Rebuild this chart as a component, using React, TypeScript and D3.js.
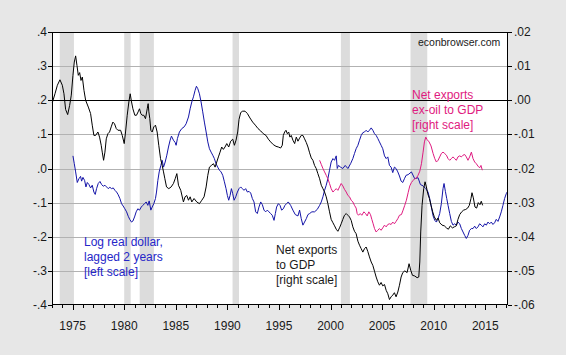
import React from "react";
import * as d3 from "d3";

const leftTicks = [0.4, 0.3, 0.2, 0.1, 0.0, -0.1, -0.2, -0.3, -0.4];
const leftTickLabels = [".4", ".3", ".2", ".1", ".0", "-.1", "-.2", "-.3", "-.4"];
const rightTicks = [0.02, 0.01, 0.0, -0.01, -0.02, -0.03, -0.04, -0.05, -0.06];
const rightTickLabels = [".02", ".01", ".00", "-.01", "-.02", "-.03", "-.04", "-.05", "-.06"];
const yearLabels = [1975, 1980, 1985, 1990, 1995, 2000, 2005, 2010, 2015];
const recessions: [number, number][] = [
  [1973.75, 1975.125], [1980.0, 1980.625], [1981.5, 1982.875],
  [1990.5, 1991.125], [2001.0, 2001.875], [2007.75, 2009.375],
];

// Log real dollar, lagged 2 years (left scale)
const dollarLagged: [number, number][] = [
  [1975.03,0.037],[1975.16,0.014],[1975.29,-0.010],[1975.45,-0.041],[1975.61,-0.030],[1975.77,-0.023],[1975.87,-0.037],[1976.0,-0.026],[1976.16,-0.035],[1976.29,-0.054],[1976.42,-0.041],[1976.58,-0.047],[1976.74,-0.057],[1976.9,-0.049],[1977.06,-0.069],[1977.19,-0.076],[1977.32,-0.059],[1977.48,-0.044],[1977.65,-0.038],[1977.81,-0.047],[1977.97,-0.052],[1978.13,-0.049],[1978.29,-0.054],[1978.45,-0.059],[1978.61,-0.055],[1978.77,-0.059],[1978.94,-0.057],[1979.1,-0.064],[1979.26,-0.069],[1979.42,-0.077],[1979.58,-0.088],[1979.74,-0.103],[1979.9,-0.110],[1980.06,-0.118],[1980.23,-0.127],[1980.39,-0.140],[1980.55,-0.150],[1980.71,-0.157],[1980.84,-0.154],[1981.0,-0.142],[1981.16,-0.127],[1981.32,-0.118],[1981.48,-0.122],[1981.65,-0.113],[1981.81,-0.108],[1981.97,-0.103],[1982.13,-0.098],[1982.29,-0.108],[1982.42,-0.095],[1982.58,-0.122],[1982.71,-0.113],[1982.87,-0.103],[1983.03,-0.088],[1983.13,-0.069],[1983.26,-0.035],[1983.39,-0.010],[1983.55,0.009],[1983.68,0.024],[1983.81,0.004],[1983.97,0.019],[1984.13,0.039],[1984.29,0.063],[1984.45,0.083],[1984.58,0.095],[1984.77,0.083],[1984.94,0.076],[1985.03,0.068],[1985.16,0.088],[1985.35,0.107],[1985.58,0.117],[1985.81,0.122],[1986.0,0.131],[1986.23,0.151],[1986.39,0.175],[1986.55,0.195],[1986.71,0.210],[1986.87,0.229],[1987.0,0.241],[1987.13,0.234],[1987.29,0.219],[1987.45,0.195],[1987.61,0.166],[1987.77,0.136],[1987.94,0.107],[1988.1,0.078],[1988.26,0.058],[1988.42,0.048],[1988.58,0.039],[1988.74,0.029],[1988.9,0.014],[1989.06,0.004],[1989.23,-0.005],[1989.39,-0.010],[1989.55,-0.020],[1989.71,-0.039],[1989.87,-0.059],[1990.0,-0.079],[1990.13,-0.093],[1990.26,-0.079],[1990.39,-0.059],[1990.52,-0.074],[1990.65,-0.093],[1990.81,-0.083],[1990.97,-0.069],[1991.13,-0.059],[1991.29,-0.054],[1991.45,-0.059],[1991.61,-0.064],[1991.77,-0.059],[1991.94,-0.069],[1992.1,-0.067],[1992.26,-0.072],[1992.42,-0.088],[1992.58,-0.098],[1992.74,-0.127],[1992.9,-0.132],[1993.06,-0.113],[1993.23,-0.098],[1993.39,-0.106],[1993.55,-0.122],[1993.71,-0.127],[1993.87,-0.122],[1994.03,-0.127],[1994.19,-0.132],[1994.35,-0.137],[1994.52,-0.152],[1994.65,-0.132],[1994.77,-0.113],[1994.94,-0.103],[1995.1,-0.108],[1995.26,-0.122],[1995.42,-0.118],[1995.58,-0.108],[1995.74,-0.103],[1995.9,-0.098],[1996.13,-0.108],[1996.35,-0.122],[1996.58,-0.135],[1996.84,-0.139],[1997.0,-0.122],[1997.16,-0.147],[1997.32,-0.166],[1997.48,-0.157],[1997.65,-0.147],[1997.81,-0.135],[1997.97,-0.132],[1998.19,-0.127],[1998.45,-0.127],[1998.71,-0.120],[1998.94,-0.108],[1999.1,-0.098],[1999.26,-0.083],[1999.42,-0.064],[1999.58,-0.049],[1999.74,-0.030],[1999.9,-0.005],[2000.06,0.019],[2000.23,0.029],[2000.39,0.024],[2000.55,0.037],[2000.65,0.000],[2000.77,0.009],[2000.97,0.004],[2001.19,0.000],[2001.42,0.009],[2001.68,0.000],[2001.94,0.014],[2002.16,0.029],[2002.32,0.044],[2002.48,0.058],[2002.65,0.068],[2002.81,0.083],[2002.97,0.097],[2003.13,0.105],[2003.29,0.107],[2003.45,0.112],[2003.61,0.107],[2003.77,0.112],[2003.94,0.119],[2004.1,0.112],[2004.26,0.102],[2004.42,0.097],[2004.58,0.088],[2004.74,0.078],[2004.9,0.068],[2005.06,0.058],[2005.23,0.037],[2005.39,0.029],[2005.55,0.034],[2005.71,0.009],[2005.87,0.004],[2006.03,-0.012],[2006.19,0.004],[2006.35,0.000],[2006.52,-0.010],[2006.68,-0.022],[2006.84,-0.037],[2007.0,-0.041],[2007.16,-0.030],[2007.32,-0.020],[2007.52,-0.018],[2007.84,-0.010],[2008.16,-0.030],[2008.48,-0.027],[2008.71,-0.047],[2008.97,-0.051],[2009.23,-0.059],[2009.45,-0.069],[2009.61,-0.088],[2009.77,-0.113],[2009.94,-0.139],[2010.1,-0.152],[2010.26,-0.157],[2010.42,-0.147],[2010.58,-0.132],[2010.74,-0.103],[2010.9,-0.059],[2011.0,-0.044],[2011.13,-0.067],[2011.26,-0.088],[2011.39,-0.108],[2011.55,-0.132],[2011.71,-0.155],[2011.87,-0.166],[2012.03,-0.162],[2012.19,-0.166],[2012.35,-0.157],[2012.52,-0.162],[2012.68,-0.176],[2012.84,-0.186],[2013.0,-0.196],[2013.16,-0.205],[2013.32,-0.196],[2013.48,-0.181],[2013.65,-0.176],[2013.81,-0.176],[2013.97,-0.169],[2014.13,-0.176],[2014.29,-0.171],[2014.45,-0.162],[2014.61,-0.166],[2014.77,-0.171],[2014.94,-0.162],[2015.1,-0.166],[2015.26,-0.157],[2015.42,-0.162],[2015.58,-0.157],[2015.74,-0.164],[2015.9,-0.159],[2016.06,-0.149],[2016.23,-0.155],[2016.39,-0.142],[2016.55,-0.127],[2016.71,-0.108],[2016.87,-0.088],[2017.03,-0.074],[2017.16,-0.067],
];

// Net exports to GDP (right scale)
const netExports: [number, number][] = [
  [1973.03,-0.0007],[1973.29,0.0019],[1973.52,0.0044],[1973.77,0.0060],[1974.0,0.0044],[1974.16,0.0019],[1974.32,-0.0027],[1974.52,-0.0042],[1974.71,-0.0015],[1974.87,0.0015],[1975.03,0.0073],[1975.16,0.0112],[1975.29,0.0130],[1975.42,0.0102],[1975.55,0.0073],[1975.68,0.0081],[1975.81,0.0058],[1975.94,0.0068],[1976.1,0.0029],[1976.26,0.0000],[1976.52,-0.0020],[1976.74,-0.0039],[1976.9,-0.0073],[1977.06,-0.0103],[1977.23,-0.0103],[1977.45,-0.0093],[1977.61,-0.0108],[1977.77,-0.0132],[1977.87,-0.0152],[1978.0,-0.0176],[1978.13,-0.0152],[1978.26,-0.0113],[1978.42,-0.0098],[1978.58,-0.0093],[1978.74,-0.0078],[1978.9,-0.0064],[1979.06,-0.0069],[1979.23,-0.0083],[1979.39,-0.0088],[1979.65,-0.0088],[1979.81,-0.0103],[1980.0,-0.0127],[1980.13,-0.0093],[1980.29,-0.0044],[1980.45,-0.0005],[1980.58,0.0019],[1980.71,-0.0005],[1980.84,-0.0025],[1981.03,-0.0044],[1981.19,-0.0044],[1981.35,-0.0034],[1981.48,-0.0025],[1981.61,-0.0039],[1981.74,-0.0044],[1981.9,-0.0044],[1982.06,-0.0054],[1982.23,-0.0025],[1982.32,-0.0010],[1982.39,-0.0034],[1982.48,-0.0054],[1982.58,-0.0088],[1982.71,-0.0093],[1982.87,-0.0078],[1983.03,-0.0073],[1983.19,-0.0093],[1983.35,-0.0132],[1983.52,-0.0171],[1983.68,-0.0191],[1983.81,-0.0210],[1983.94,-0.0230],[1984.1,-0.0254],[1984.32,-0.0259],[1984.55,-0.0254],[1984.77,-0.0244],[1984.94,-0.0230],[1985.1,-0.0215],[1985.26,-0.0249],[1985.48,-0.0264],[1985.74,-0.0298],[1985.9,-0.0283],[1986.06,-0.0279],[1986.23,-0.0293],[1986.39,-0.0283],[1986.55,-0.0298],[1986.77,-0.0288],[1987.03,-0.0298],[1987.29,-0.0303],[1987.52,-0.0293],[1987.74,-0.0283],[1987.94,-0.0254],[1988.1,-0.0220],[1988.26,-0.0196],[1988.45,-0.0191],[1988.65,-0.0186],[1988.81,-0.0196],[1988.97,-0.0181],[1989.13,-0.0166],[1989.29,-0.0152],[1989.45,-0.0137],[1989.61,-0.0144],[1989.77,-0.0137],[1989.94,-0.0127],[1990.13,-0.0137],[1990.32,-0.0120],[1990.52,-0.0114],[1990.68,-0.0132],[1990.84,-0.0117],[1991.0,-0.0093],[1991.13,-0.0056],[1991.29,-0.0036],[1991.48,-0.0032],[1991.71,-0.0032],[1991.94,-0.0039],[1992.19,-0.0052],[1992.45,-0.0064],[1992.71,-0.0073],[1992.97,-0.0083],[1993.23,-0.0090],[1993.48,-0.0098],[1993.74,-0.0103],[1993.97,-0.0114],[1994.19,-0.0122],[1994.45,-0.0130],[1994.71,-0.0135],[1994.94,-0.0137],[1995.16,-0.0140],[1995.32,-0.0132],[1995.42,-0.0103],[1995.55,-0.0093],[1995.68,-0.0088],[1995.81,-0.0098],[1995.94,-0.0093],[1996.06,-0.0108],[1996.19,-0.0103],[1996.35,-0.0117],[1996.52,-0.0127],[1996.68,-0.0108],[1996.84,-0.0120],[1997.0,-0.0111],[1997.16,-0.0103],[1997.32,-0.0103],[1997.48,-0.0113],[1997.65,-0.0124],[1997.81,-0.0137],[1997.97,-0.0154],[1998.13,-0.0169],[1998.29,-0.0176],[1998.45,-0.0191],[1998.61,-0.0200],[1998.77,-0.0215],[1998.94,-0.0230],[1999.1,-0.0249],[1999.26,-0.0259],[1999.42,-0.0269],[1999.58,-0.0283],[1999.74,-0.0303],[1999.9,-0.0327],[2000.06,-0.0349],[2000.23,-0.0359],[2000.39,-0.0368],[2000.55,-0.0378],[2000.71,-0.0384],[2000.87,-0.0374],[2001.03,-0.0362],[2001.19,-0.0349],[2001.35,-0.0337],[2001.52,-0.0332],[2001.68,-0.0337],[2001.84,-0.0342],[2002.0,-0.0352],[2002.16,-0.0371],[2002.32,-0.0384],[2002.48,-0.0391],[2002.65,-0.0413],[2002.81,-0.0425],[2002.97,-0.0435],[2003.13,-0.0445],[2003.29,-0.0435],[2003.45,-0.0430],[2003.61,-0.0443],[2003.77,-0.0459],[2003.94,-0.0474],[2004.1,-0.0484],[2004.26,-0.0501],[2004.42,-0.0518],[2004.58,-0.0532],[2004.74,-0.0542],[2004.9,-0.0534],[2005.06,-0.0544],[2005.23,-0.0540],[2005.39,-0.0557],[2005.55,-0.0567],[2005.71,-0.0584],[2005.87,-0.0576],[2006.03,-0.0571],[2006.19,-0.0564],[2006.35,-0.0576],[2006.52,-0.0562],[2006.68,-0.0542],[2006.84,-0.0518],[2007.0,-0.0505],[2007.2,-0.0500],[2007.42,-0.0505],[2007.61,-0.0479],[2007.77,-0.0498],[2007.94,-0.0513],[2008.16,-0.0515],[2008.39,-0.0520],[2008.55,-0.0518],[2008.65,-0.0474],[2008.74,-0.0386],[2008.87,-0.0308],[2009.03,-0.0259],[2009.16,-0.0239],[2009.29,-0.0254],[2009.42,-0.0274],[2009.58,-0.0288],[2009.74,-0.0308],[2009.9,-0.0327],[2010.06,-0.0342],[2010.26,-0.0352],[2010.42,-0.0345],[2010.58,-0.0359],[2010.81,-0.0366],[2011.03,-0.0368],[2011.23,-0.0374],[2011.42,-0.0378],[2011.61,-0.0368],[2011.81,-0.0374],[2012.0,-0.0371],[2012.19,-0.0368],[2012.35,-0.0349],[2012.52,-0.0335],[2012.71,-0.0327],[2012.9,-0.0322],[2013.1,-0.0320],[2013.29,-0.0316],[2013.45,-0.0308],[2013.61,-0.0288],[2013.71,-0.0271],[2013.84,-0.0286],[2014.0,-0.0313],[2014.16,-0.0316],[2014.32,-0.0300],[2014.48,-0.0306],[2014.61,-0.0296],[2014.74,-0.0308],
];

// Net exports ex-oil to GDP (right scale)
const netExportsExOil: [number, number][] = [
  [1998.94,-0.0176],[1999.1,-0.0188],[1999.26,-0.0200],[1999.42,-0.0210],[1999.58,-0.0220],[1999.74,-0.0230],[1999.9,-0.0244],[2000.06,-0.0259],[2000.23,-0.0269],[2000.39,-0.0264],[2000.55,-0.0259],[2000.71,-0.0264],[2000.87,-0.0254],[2001.03,-0.0244],[2001.19,-0.0251],[2001.35,-0.0261],[2001.52,-0.0269],[2001.68,-0.0279],[2001.84,-0.0283],[2002.0,-0.0293],[2002.16,-0.0298],[2002.32,-0.0308],[2002.48,-0.0316],[2002.58,-0.0332],[2002.71,-0.0337],[2002.87,-0.0332],[2003.03,-0.0337],[2003.23,-0.0327],[2003.39,-0.0332],[2003.55,-0.0339],[2003.71,-0.0327],[2003.87,-0.0335],[2004.0,-0.0349],[2004.13,-0.0362],[2004.26,-0.0376],[2004.42,-0.0386],[2004.58,-0.0381],[2004.74,-0.0376],[2004.9,-0.0381],[2005.06,-0.0374],[2005.23,-0.0366],[2005.39,-0.0371],[2005.55,-0.0364],[2005.71,-0.0362],[2005.87,-0.0364],[2006.03,-0.0357],[2006.19,-0.0362],[2006.35,-0.0355],[2006.52,-0.0347],[2006.68,-0.0337],[2006.87,-0.0335],[2007.03,-0.0322],[2007.19,-0.0308],[2007.35,-0.0293],[2007.52,-0.0271],[2007.68,-0.0251],[2007.84,-0.0241],[2008.0,-0.0235],[2008.16,-0.0230],[2008.32,-0.0228],[2008.48,-0.0220],[2008.65,-0.0208],[2008.81,-0.0186],[2008.97,-0.0152],[2009.1,-0.0122],[2009.23,-0.0108],[2009.35,-0.0115],[2009.55,-0.0122],[2009.74,-0.0134],[2009.94,-0.0156],[2010.1,-0.0171],[2010.26,-0.0181],[2010.42,-0.0176],[2010.58,-0.0166],[2010.74,-0.0156],[2010.9,-0.0152],[2011.06,-0.0156],[2011.23,-0.0161],[2011.39,-0.0171],[2011.55,-0.0176],[2011.71,-0.0171],[2011.87,-0.0166],[2012.03,-0.0171],[2012.19,-0.0176],[2012.35,-0.0166],[2012.52,-0.0163],[2012.68,-0.0166],[2012.84,-0.0161],[2013.0,-0.0159],[2013.16,-0.0166],[2013.32,-0.0176],[2013.48,-0.0166],[2013.65,-0.0152],[2013.81,-0.0171],[2013.97,-0.0181],[2014.13,-0.0186],[2014.29,-0.0193],[2014.45,-0.0198],[2014.58,-0.0191],[2014.71,-0.0205],
];

const W = 566, H = 355;
const L = 52, R = 508, T = 32, B = 305;
const FONT = "'Liberation Sans', Arial, sans-serif";
const BLUE_LINE = "#1414a8";
const BLUE_TEXT = "#2626c8";
const PINK = "#df1a80";

export default function App() {
  const x = d3.scaleLinear().domain([1973.0, 2017.2]).range([L, R]);
  const yL = d3.scaleLinear().domain([-0.4, 0.4]).range([B, T]);
  const yR = d3.scaleLinear().domain([-0.06, 0.02]).range([B, T]);
  const lineL = d3.line<[number, number]>().x((d) => x(d[0])).y((d) => yL(d[1]));
  const lineR = d3.line<[number, number]>().x((d) => x(d[0])).y((d) => yR(d[1]));
  const crisp = (v: number) => Math.round(v) + 0.5;
  const years = d3.range(1973, 2018);

  return (
    <svg width={W} height={H} style={{ position: "absolute", left: 0, top: 0 }} fontFamily={FONT}>
      <rect x={0} y={0} width={W} height={H} fill="#e7e7e7" />
      <rect x={L} y={T} width={R - L} height={B - T} fill="#ffffff" />
      {recessions.map(([a, b], i) => (
        <rect key={i} x={x(a)} y={T} width={x(b) - x(a)} height={B - T} fill="#dcdcdc" />
      ))}
      {leftTicks.slice(1, -1).map((v, i) => (
        <line key={i} x1={L} x2={R} y1={crisp(yL(v))} y2={crisp(yL(v))} stroke="#b2b2b2" strokeWidth={1} />
      ))}
      <line x1={L} x2={R} y1={crisp(yR(0))} y2={crisp(yR(0))} stroke="#000" strokeWidth={1} />
      <path d={lineL(dollarLagged) || ""} fill="none" stroke={BLUE_LINE} strokeWidth={1} />
      <path d={lineR(netExports) || ""} fill="none" stroke="#000" strokeWidth={1} />
      <path d={lineR(netExportsExOil) || ""} fill="none" stroke={PINK} strokeWidth={1} />
      <rect x={L + 0.5} y={T + 0.5} width={R - L - 1} height={B - T - 1} fill="none" stroke="#000" strokeWidth={1} />
      {leftTicks.map((v, i) => (
        <g key={i}>
          <line x1={L - 4} x2={L} y1={crisp(yL(v))} y2={crisp(yL(v))} stroke="#000" />
          <text x={L - 5} y={yL(v) + 4} textAnchor="end" fontSize={12} fill="#1a1a1a">{leftTickLabels[i]}</text>
        </g>
      ))}
      {rightTicks.map((v, i) => (
        <g key={i}>
          <line x1={R} x2={R + 4} y1={crisp(yR(v))} y2={crisp(yR(v))} stroke="#000" />
          <text x={R + 6} y={yR(v) + 4} textAnchor="start" fontSize={12} fill="#1a1a1a">{rightTickLabels[i]}</text>
        </g>
      ))}
      {years.map((yv) => (
        <line key={yv} x1={crisp(x(yv))} x2={crisp(x(yv))} y1={B} y2={B + (yv % 5 === 0 ? 5 : 3)} stroke="#000" />
      ))}
      {yearLabels.map((yv) => (
        <text key={yv} x={x(yv)} y={330} textAnchor="middle" fontSize={12} fill="#1a1a1a">{yv}</text>
      ))}
      <text x={418} y={46} fontSize={10.5} fill="#1a1a1a">econbrowser.com</text>
      <g fontSize={12} fill={BLUE_TEXT}>
        <text x={84} y={246}>Log real dollar,</text>
        <text x={84} y={261}>lagged 2 years</text>
        <text x={84} y={276}>[left scale]</text>
      </g>
      <g fontSize={12} fill="#1a1a1a">
        <text x={276} y={254}>Net exports</text>
        <text x={276} y={269}>to GDP</text>
        <text x={276} y={284}>[right scale]</text>
      </g>
      <g fontSize={12} fill={PINK}>
        <text x={412} y={99}>Net exports</text>
        <text x={412} y={114}>ex-oil to GDP</text>
        <text x={412} y={129}>[right scale]</text>
      </g>
    </svg>
  );
}
